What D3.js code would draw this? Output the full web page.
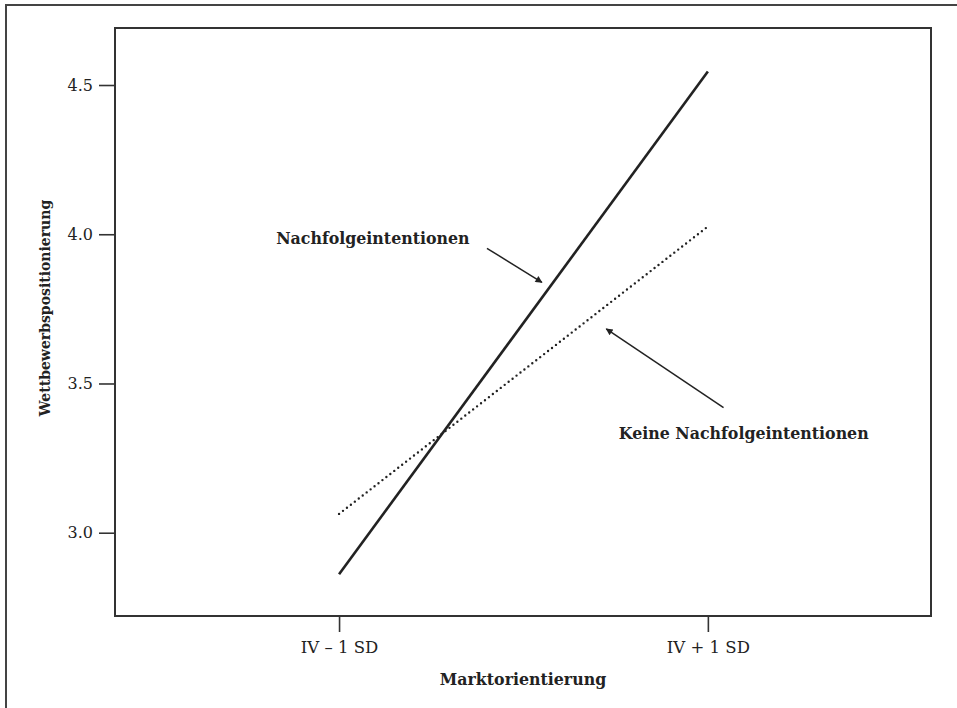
<!DOCTYPE html>
<html>
<head>
<meta charset="utf-8">
<script src="https://cdn.jsdelivr.net/npm/d3@7"></script>
<style>
  body { margin: 0; background: #fff; }
  text { font-family: "DejaVu Serif", serif; fill: #222; }
</style>
</head>
<body>
<div id="chart"></div>
<script>
// data: simple slopes at -1 SD / +1 SD
const xLevels = [-1, 1];
const xTickLabels = ["IV \u2013 1 SD", "IV + 1 SD"];
const yTicks = [3.0, 3.5, 4.0, 4.5];
const withSuccession = [2.861, 4.545];     // Nachfolgeintentionen
const withoutSuccession = [3.063, 4.026];  // Keine Nachfolgeintentionen

const W = 957, H = 708;
const margin = {top: 28, right: 26, bottom: 92, left: 115};
const width = W - margin.left - margin.right;
const height = H - margin.top - margin.bottom;

const svg = d3.select("#chart")
  .append("svg")
  .attr("width", W)
  .attr("height", H);

// defs for arrow heads
svg.append("defs").append("marker")
  .attr("id", "arrow")
  .attr("viewBox", "0 0 10 10")
  .attr("refX", 9).attr("refY", 5)
  .attr("markerWidth", 10).attr("markerHeight", 7)
  .attr("markerUnits", "userSpaceOnUse")
  .attr("orient", "auto")
  .append("path")
  .attr("d", "M0,0 L10,5 L0,10 z")
  .attr("fill", "#222");

// outer frame (only top/left visible)
svg.append("rect")
  .attr("x", 6).attr("y", 5)
  .attr("width", W + 20).attr("height", H + 20)
  .attr("fill", "none")
  .attr("stroke", "#444")
  .attr("stroke-width", 2);

const g = svg.append("g")
  .attr("transform", "translate(" + margin.left + "," + margin.top + ")");

const x = d3.scaleLinear().domain([-2.215, 2.21]).range([0, width]);
const y = d3.scaleLinear().domain([2.721, 4.691]).range([height, 0]);

// Y axis
const yAxis = g.append("g")
  .call(d3.axisLeft(y).tickValues(yTicks).tickFormat(d3.format(".1f")).tickSize(16).tickPadding(6));
yAxis.select(".domain").remove();
yAxis.selectAll("line").attr("stroke", "#333").attr("stroke-width", 1.6);
yAxis.selectAll("text").style("font-size", "16px").attr("fill", "#222")
  .style("font-family", "DejaVu Serif, serif");

// X axis
const xAxis = g.append("g")
  .attr("transform", "translate(0," + height + ")")
  .call(d3.axisBottom(x).tickValues(xLevels).tickFormat((d, i) => xTickLabels[i]).tickSize(16).tickPadding(9));
xAxis.select(".domain").remove();
xAxis.selectAll("line").attr("stroke", "#333").attr("stroke-width", 1.6);
xAxis.selectAll("text").style("font-size", "16.5px").attr("fill", "#222")
  .style("font-family", "DejaVu Serif, serif");

// plot box
g.append("rect")
  .attr("x", 0).attr("y", 0)
  .attr("width", width).attr("height", height)
  .attr("fill", "none")
  .attr("stroke", "#333")
  .attr("stroke-width", 2);

const line = d3.line()
  .x((d, i) => x(xLevels[i]))
  .y(d => y(d));

// solid line
g.append("path")
  .datum(withSuccession)
  .attr("d", line)
  .attr("fill", "none")
  .attr("stroke", "#222")
  .attr("stroke-width", 2.6);

// dotted line
g.append("path")
  .datum(withoutSuccession)
  .attr("d", line)
  .attr("fill", "none")
  .attr("stroke", "#222")
  .attr("stroke-width", 2.4)
  .attr("stroke-linecap", "round")
  .attr("stroke-dasharray", "0 5");

// annotations
const annotations = [
  {label: "Nachfolgeintentionen", tx: -1.341, ty: 3.967, from: [-0.198, 3.953], to: [0.100, 3.839]},
  {label: "Keine Nachfolgeintentionen", tx: 0.517, ty: 3.313, from: [1.085, 3.419], to: [0.449, 3.683]}
];

annotations.forEach(a => {
  g.append("text")
    .attr("x", x(a.tx)).attr("y", y(a.ty))
    .style("font-size", "15.8px")
    .style("font-weight", "bold")
    .text(a.label);
  g.append("line")
    .attr("x1", x(a.from[0])).attr("y1", y(a.from[1]))
    .attr("x2", x(a.to[0])).attr("y2", y(a.to[1]))
    .attr("stroke", "#222")
    .attr("stroke-width", 1.5)
    .attr("marker-end", "url(#arrow)");
});

// axis titles
svg.append("text")
  .attr("x", margin.left + width / 2)
  .attr("y", 685)
  .attr("text-anchor", "middle")
  .style("font-size", "15.8px")
  .style("font-weight", "bold")
  .text("Marktorientierung");

svg.append("text")
  .attr("transform", "translate(50,308) rotate(-90)")
  .attr("text-anchor", "middle")
  .style("font-size", "14px")
  .style("font-weight", "bold")
  .text("Wettbewerbspositionierung");
</script>
</body>
</html>
